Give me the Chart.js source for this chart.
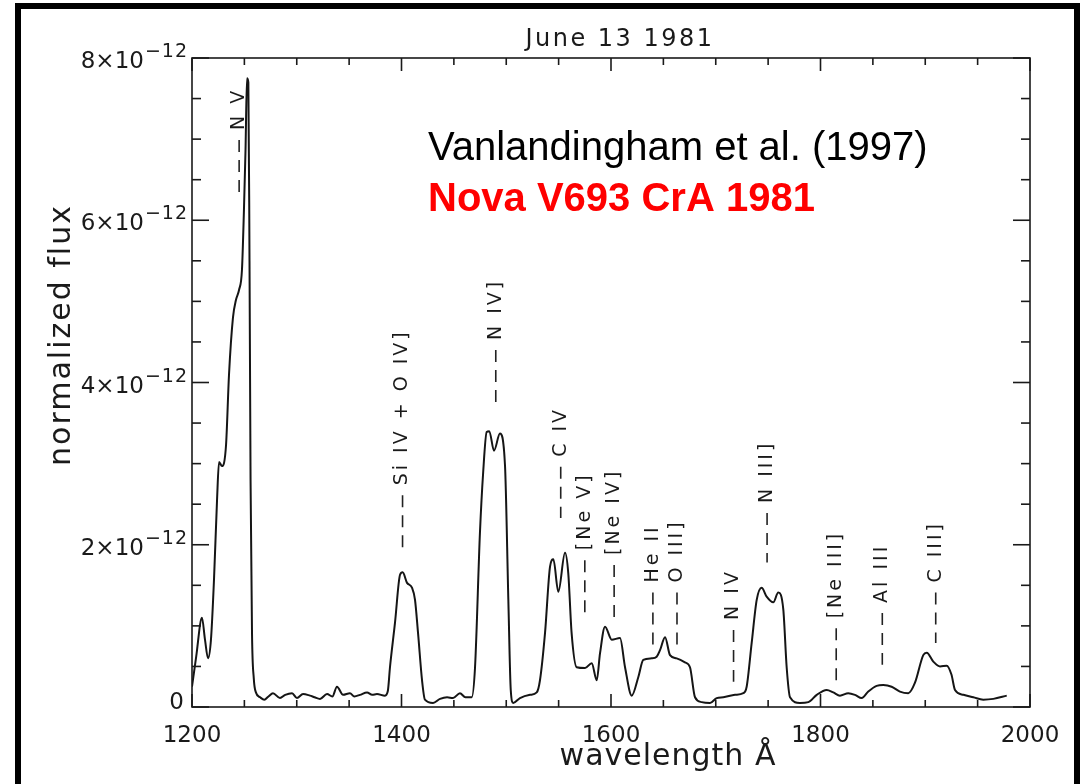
<!DOCTYPE html>
<html>
<head>
<meta charset="utf-8">
<script src="https://cdn.jsdelivr.net/npm/chart.js@4.4.0/dist/chart.umd.min.js"></script>
<style>
  html, body { margin: 0; padding: 0; background: #fff; }
  #wrap { position: relative; width: 1086px; height: 784px; overflow: hidden; }
  #frame { position: absolute; left: 15px; top: 3px; width: 1065px; height: 900px;
           border: 6px solid #000; box-sizing: border-box; pointer-events: none; }
</style>
</head>
<body>
<div id="wrap">
  <canvas id="spectrum" width="1086" height="784"></canvas>
  <div id="frame"></div>
</div>
<script>
// IUE spectrum of Nova V693 CrA, June 13 1981
// flux values are in units of 1e-12 (axis labels add the x10^-12)
const wavelength = [
  1200, 1204, 1209.5, 1212.4, 1215.3, 1218.1, 1221, 1223.9, 1225.8, 1228.6,
  1232.5, 1235.3, 1239.1, 1242, 1244.9, 1247.7, 1249.6, 1251.1, 1252.5, 1253.8,
  1254.9, 1255.9, 1257.3, 1259, 1261, 1265, 1269, 1273, 1277.3, 1284,
  1289, 1295.5, 1300.2, 1306, 1312.6, 1317, 1322.2, 1328.9, 1334, 1338.4,
  1344.2, 1350.8, 1355, 1360.4, 1367.1, 1372, 1376.6, 1384.2, 1387, 1389,
  1393.8, 1398.6, 1401.1, 1405.3, 1410, 1412.9, 1415.8, 1419.6, 1422.4, 1430.1,
  1436.8, 1443.5, 1449.2, 1455.8, 1461, 1467, 1470.2, 1474.9, 1478, 1481.3,
  1483.8, 1488.3, 1494, 1498.8, 1502, 1504.3, 1506.7, 1513.1, 1522.7, 1529.1,
  1532.2, 1537, 1541.8, 1545, 1549.7, 1556.1, 1559.2, 1562.4, 1567.2, 1575.2,
  1581.6, 1586.4, 1589.5, 1594.3, 1600.7, 1608.6, 1613.4, 1619.8, 1626.1, 1630.8,
  1638.9, 1643.6, 1646.8, 1651.6, 1656.3, 1662.7, 1670.6, 1675.4, 1680.2, 1686.6,
  1694.5, 1700.9, 1707.2, 1718.4, 1726.3, 1729.5, 1734.3, 1739.1, 1743.8, 1748.6,
  1754.9, 1759.7, 1764.5, 1767.7, 1770.9, 1780.4, 1788.4, 1796.4, 1805.9, 1812.2,
  1818.6, 1826.5, 1832.9, 1839.3, 1845.6, 1853.6, 1859.9, 1867.9, 1875.8, 1883.8,
  1890.2, 1898.1, 1901.4, 1907.7, 1914.1, 1920.5, 1925, 1928.4, 1936.4, 1945.9,
  1955.4, 1965, 1977.8
];
const flux = [
  0.25, 0.62, 1.10, 0.83, 0.60, 0.83, 1.57, 2.55, 3.02, 2.97,
  3.23, 4.09, 4.80, 5.02, 5.14, 5.39, 6.13, 6.87, 7.75, 7.70,
  5.50, 2.80, 0.90, 0.35, 0.18, 0.12, 0.09, 0.13, 0.17, 0.11,
  0.15, 0.17, 0.11, 0.16, 0.14, 0.12, 0.10, 0.16, 0.13, 0.25,
  0.15, 0.17, 0.13, 0.15, 0.18, 0.15, 0.16, 0.14, 0.20, 0.49,
  1.04, 1.63, 1.66, 1.53, 1.47, 1.32, 0.91, 0.33, 0.09, 0.05,
  0.10, 0.12, 0.11, 0.17, 0.12, 0.12, 0.49, 2.15, 2.90, 3.39,
  3.40, 3.16, 3.37, 2.98, 1.32, 0.21, 0.05, 0.11, 0.15, 0.18,
  0.33, 0.91, 1.73, 1.82, 1.42, 1.90, 1.65, 0.91, 0.49, 0.48,
  0.54, 0.33, 0.66, 0.99, 0.83, 0.85, 0.49, 0.14, 0.37, 0.58,
  0.60, 0.62, 0.70, 0.86, 0.64, 0.60, 0.55, 0.49, 0.12, 0.06,
  0.05, 0.11, 0.12, 0.15, 0.17, 0.25, 0.79, 1.32, 1.47, 1.36,
  1.29, 1.41, 1.20, 0.49, 0.12, 0.05, 0.06, 0.15, 0.21, 0.18,
  0.14, 0.17, 0.15, 0.11, 0.19, 0.26, 0.27, 0.25, 0.19, 0.17,
  0.30, 0.64, 0.67, 0.56, 0.50, 0.51, 0.40, 0.21, 0.15, 0.12,
  0.09, 0.10, 0.14
];

// line identifications: position, label, dashed marker from top to bottom (1e-12 units)
const lineWave   = [1245, 1401, 1490, 1552, 1575, 1603, 1640, 1663, 1717, 1749, 1815, 1859, 1910];
const lineName   = ['N V', 'Si IV + O IV]', 'N IV]', 'C IV', '[Ne V]', '[Ne IV]', 'He II', 'O III]',
                    'N IV', 'N III]', '[Ne III]', 'Al III', 'C III]'];
const lineTop    = [6.99, 2.61, 4.40, 2.96, 1.81, 1.75, 1.41, 1.41, 0.95, 2.39, 0.97, 1.16, 1.41];
const lineBottom = [6.34, 1.97, 3.76, 2.33, 1.16, 1.11, 0.76, 0.76, 0.31, 1.78, 0.33, 0.52, 0.79];

const xLabelTicks = [1200, 1400, 1600, 1800, 2000];
const yLabelTicks = [0, 2, 4, 6, 8];

const plotFont = '"DejaVu Sans", sans-serif';

const datasets = [{
  label: 'flux',
  data: wavelength.map((w, i) => ({ x: w, y: flux[i] })),
  borderColor: '#151515',
  borderWidth: 2,
  pointRadius: 0,
  cubicInterpolationMode: 'monotone'
}];
lineWave.forEach((w, i) => {
  datasets.push({
    label: lineName[i],
    data: [{ x: w, y: lineTop[i] }, { x: w, y: lineBottom[i] }],
    borderColor: '#222',
    borderWidth: 1.6,
    borderDash: [12, 8],
    pointRadius: 0
  });
});

function strokeLine(ctx, x1, y1, x2, y2) {
  ctx.beginPath();
  ctx.moveTo(x1, y1);
  ctx.lineTo(x2, y2);
  ctx.stroke();
}

const axisDecor = {
  id: 'axisDecor',
  afterDraw(chart) {
    const { ctx, chartArea: a, scales: { x, y } } = chart;
    ctx.save();
    ctx.strokeStyle = '#1a1a1a';
    ctx.lineWidth = 1.6;
    ctx.strokeRect(a.left, a.top, a.right - a.left, a.bottom - a.top);

    // inward ticks on all four sides
    x.ticks.forEach(t => {
      const px = x.getPixelForValue(t.value);
      const len = xLabelTicks.includes(t.value) ? 13 : 7;
      strokeLine(ctx, px, a.bottom, px, a.bottom - len);
      strokeLine(ctx, px, a.top, px, a.top + len);
    });
    y.ticks.forEach(t => {
      const py = y.getPixelForValue(t.value);
      const len = yLabelTicks.includes(t.value) ? 17 : 9;
      strokeLine(ctx, a.left, py, a.left + len, py);
      strokeLine(ctx, a.right, py, a.right - len, py);
    });

    ctx.fillStyle = '#1a1a1a';
    ctx.textBaseline = 'alphabetic';

    // x tick labels
    ctx.font = '23px ' + plotFont;
    ctx.textAlign = 'center';
    xLabelTicks.forEach(v => {
      ctx.fillText(String(v), x.getPixelForValue(v), a.bottom + 35);
    });

    // y tick labels with exponent
    yLabelTicks.forEach(v => {
      const py = y.getPixelForValue(v);
      ctx.textAlign = 'right';
      if (v === 0) {
        ctx.font = '23px ' + plotFont;
        ctx.fillText('0', a.left - 8, py + 2);
        return;
      }
      ctx.font = '19px ' + plotFont;
      ctx.letterSpacing = '1px';
      const sup = '\u221212';
      const supW = ctx.measureText(sup).width;
      ctx.fillText(sup, a.left - 4, py - 1);
      ctx.letterSpacing = '0px';
      ctx.font = '23px ' + plotFont;
      ctx.fillText(v + '\u00d710', a.left - 5 - supW, py + 10);
    });

    // title and axis titles
    ctx.textAlign = 'center';
    ctx.font = '24px ' + plotFont;
    ctx.letterSpacing = '2.5px';
    ctx.fillText('June 13 1981', 620, a.top - 12);

    ctx.font = '30px ' + plotFont;
    ctx.letterSpacing = '1px';
    ctx.fillText('wavelength \u00c5', 668, a.bottom + 58);

    ctx.save();
    ctx.translate(70, 335);
    ctx.rotate(-Math.PI / 2);
    ctx.letterSpacing = '2px';
    ctx.fillText('normalized flux', 0, 0);
    ctx.restore();

    // line identification labels, written upwards above each dashed marker
    ctx.font = '19px ' + plotFont;
    ctx.letterSpacing = '3px';
    ctx.textAlign = 'left';
    ctx.textBaseline = 'middle';
    lineWave.forEach((w, i) => {
      const px = x.getPixelForValue(w);
      const py = y.getPixelForValue(lineTop[i]) - 10;
      ctx.save();
      ctx.translate(px, py);
      ctx.rotate(-Math.PI / 2);
      ctx.fillText(lineName[i], 0, 0);
      ctx.restore();
    });

    // reference notes
    ctx.letterSpacing = '0px';
    ctx.textBaseline = 'alphabetic';
    ctx.fillStyle = '#000';
    ctx.font = '40px "Liberation Sans", Arial, sans-serif';
    ctx.fillText('Vanlandingham et al. (1997)', 428, 160);
    ctx.fillStyle = '#ff0000';
    ctx.font = 'bold 40px "Liberation Sans", Arial, sans-serif';
    ctx.fillText('Nova V693 CrA 1981', 428, 211);
    ctx.restore();
  }
};

new Chart(document.getElementById('spectrum'), {
  type: 'line',
  data: { datasets: datasets },
  options: {
    responsive: false,
    animation: false,
    devicePixelRatio: 1,
    layout: { padding: { left: 192, top: 58, right: 56, bottom: 77 } },
    plugins: { legend: { display: false }, tooltip: { enabled: false } },
    scales: {
      x: { type: 'linear', min: 1200, max: 2000, display: false, ticks: { stepSize: 50 } },
      y: { type: 'linear', min: 0, max: 8, display: false, ticks: { stepSize: 0.5 } }
    }
  },
  plugins: [axisDecor]
});
</script>
</body>
</html>
